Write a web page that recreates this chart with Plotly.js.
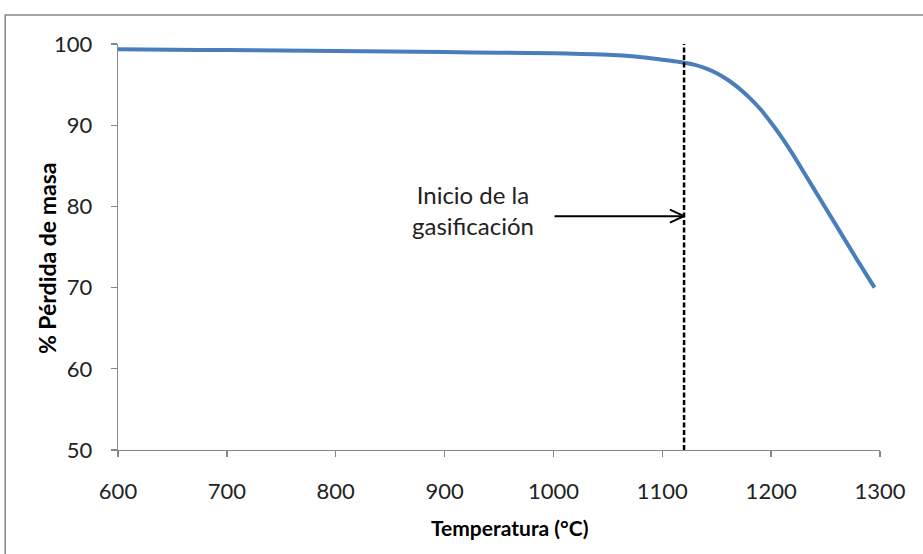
<!DOCTYPE html>
<html>
<head>
<meta charset="utf-8">
<script src="https://cdn.plot.ly/plotly-3.0.1.min.js"></script>
<style>html,body{margin:0;padding:0;background:#fff;}#chart{width:923px;height:554px;}</style>
</head>
<body>
<div id="chart"></div>
<script>
const temperatura = [600, 650, 700, 750, 800, 850, 900, 950, 1000, 1025, 1050, 1075, 1100, 1120, 1130, 1140, 1150, 1160, 1170, 1180, 1190, 1200, 1210, 1220, 1240, 1260, 1280, 1295];
const perdidaMasa = [99.35, 99.3, 99.25, 99.2, 99.15, 99.08, 99.0, 98.93, 98.85, 98.78, 98.68, 98.45, 98.05, 97.7, 97.43, 97.0, 96.4, 95.6, 94.6, 93.4, 92.0, 90.3, 88.45, 86.4, 82.0, 77.6, 73.2, 70.0];
const inicioGasificacion = 1120;
const flechaY = 78.8;
const flechaInicio = 1001;
const etiqueta = "Inicio de la<br>gasificación";
const tituloX = "Temperatura (°C)";
const tituloY = "% Pérdida de masa";
const xTicks = [600, 700, 800, 900, 1000, 1100, 1200, 1300];
const yTicks = [50, 60, 70, 80, 90, 100];

const font = "Lato, 'Open Sans', sans-serif";

const trace = {
  x: temperatura, y: perdidaMasa, type: 'scatter', mode: 'lines',
  line: {color: '#4a7ebb', width: 4, shape: 'spline', smoothing: 0.5},
  hoverinfo: 'skip'
};

const layout = {
  width: 923, height: 554,
  margin: {l: 118, r: 43, t: 44, b: 104},
  paper_bgcolor: '#fff', plot_bgcolor: '#fff',
  showlegend: false,
  font: {family: font, color: '#000'},
  xaxis: {
    range: [600, 1300], tickvals: xTicks, ticktext: xTicks.map(String),
    showgrid: false, zeroline: false, showline: true, linecolor: '#878787', linewidth: 1.3,
    ticks: 'outside', ticklen: 6, tickcolor: '#878787', tickwidth: 1.3, ticklabelstandoff: 15,
    tickfont: {size: 22, family: font, color: '#222'}, fixedrange: true
  },
  yaxis: {
    range: [50, 100], tickvals: yTicks, ticktext: yTicks.map(String),
    showgrid: false, zeroline: false, showline: true, linecolor: '#878787', linewidth: 1.3,
    ticks: 'outside', ticklen: 6, tickcolor: '#878787', tickwidth: 1.3, ticklabelstandoff: 14,
    tickfont: {size: 22, family: font, color: '#222'}, fixedrange: true
  },
  shapes: [
    {type: 'rect', xref: 'paper', yref: 'paper', x0: -0.148, x1: 1.2, y0: -0.4, y1: 1.0714,
     line: {color: '#868686', width: 1.5}, fillcolor: 'rgba(0,0,0,0)', layer: 'below'},
    {type: 'line', xref: 'x', yref: 'y', x0: inicioGasificacion, x1: inicioGasificacion, y0: 50, y1: 100,
     line: {color: '#000', width: 2.5, dash: '5px,2.5px'}},
    {type: 'line', xref: 'x', yref: 'y', x0: flechaInicio, x1: inicioGasificacion, y0: flechaY, y1: flechaY,
     line: {color: '#000', width: 2}},
    {type: 'line', xref: 'x', yref: 'y', x0: inicioGasificacion - 13, x1: inicioGasificacion, y0: flechaY + 0.8, y1: flechaY,
     line: {color: '#000', width: 2}},
    {type: 'line', xref: 'x', yref: 'y', x0: inicioGasificacion - 13, x1: inicioGasificacion, y0: flechaY - 0.8, y1: flechaY,
     line: {color: '#000', width: 2}}
  ],
  annotations: [
    {x: 926, y: 79.6, xref: 'x', yref: 'y', text: etiqueta, showarrow: false,
     font: {size: 24, family: font, color: '#222'}, align: 'center'},
    {x: 0.514, y: -0.192, xref: 'paper', yref: 'paper', text: tituloX, showarrow: false,
     xanchor: 'center', yanchor: 'middle',
     font: {size: 21, family: font, weight: 'bold', color: '#000'}},
    {x: -0.093, y: 0.473, xref: 'paper', yref: 'paper', text: tituloY, showarrow: false,
     xanchor: 'center', yanchor: 'middle', textangle: -90,
     font: {size: 23, family: font, weight: 'bold', color: '#000'}}
  ]
};

Plotly.newPlot('chart', [trace], layout, {staticPlot: true, displayModeBar: false});
</script>
</body>
</html>
